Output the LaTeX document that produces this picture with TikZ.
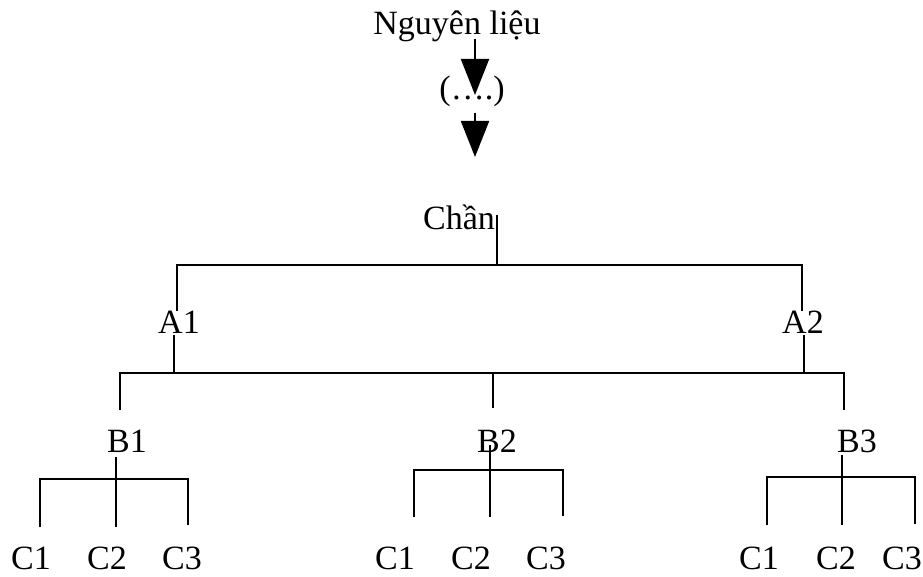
\documentclass[tikz,border=0pt]{standalone}
\usepackage{fontspec}
\setmainfont{Liberation Serif}
\usetikzlibrary{arrows.meta}
\tikzset{
  lbl/.style={inner sep=0pt, anchor=base, font=\fontsize{34}{39}\selectfont},
  ln/.style={line width=1.8pt, line cap=butt},
  arr/.style={line width=2pt, -{Triangle[width=28pt,length=36pt]}}
}
\begin{document}
\begin{tikzpicture}[x=1pt,y=-1pt]
\useasboundingbox (0,0) rectangle (923,577);
% text nodes
\node[lbl] (ngl) at (457,35) {Nguyên liệu};
\node[lbl] (dots) at (472,100) {(….)};
\node[lbl] (chan) at (459,230) {Chần};
\node[lbl] (A1) at (179,333) {A1};
\node[lbl] (A2) at (803,333) {A2};
\node[lbl] (B1) at (127,452) {B1};
\node[lbl] (B2) at (497,452) {B2};
\node[lbl] (B3) at (857,452) {B3};
\node[lbl] (b1c1) at (31,569) {C1};
\node[lbl] (b1c2) at (107,569) {C2};
\node[lbl] (b1c3) at (182,569) {C3};
\node[lbl] (b2c1) at (395,569) {C1};
\node[lbl] (b2c2) at (471,569) {C2};
\node[lbl] (b2c3) at (546,569) {C3};
\node[lbl] (b3c1) at (759,569) {C1};
\node[lbl] (b3c2) at (836,569) {C2};
\node[lbl] (b3c3) at (902,569) {C3};
% arrows
\coordinate (ar1s) at (475,39);
\coordinate (ar1e) at (475,95);
\coordinate (ar2s) at (475,113);
\coordinate (ar2e) at (475,157);
\draw[arr] (ar1s) -- (ar1e);
\draw[arr] (ar2s) -- (ar2e);
% level 1
\coordinate (c0) at (497,215);
\coordinate (c0b) at (497,265);
\coordinate (h1l) at (177,265);
\coordinate (h1r) at (802,265);
\coordinate (a1t) at (177,311);
\coordinate (a2t) at (802,311);
\draw[ln] (c0) -- (c0b);
\draw[ln] (a1t) -- (h1l) -- (h1r) -- (a2t);
% level 2
\coordinate (a1b) at (174,335);
\coordinate (a1j) at (174,373);
\coordinate (a2b) at (804,335);
\coordinate (a2j) at (804,373);
\coordinate (h2l) at (120,373);
\coordinate (h2r) at (844,373);
\coordinate (h2m) at (493,373);
\coordinate (b1t) at (120,410);
\coordinate (b2t) at (493,408);
\coordinate (b3t) at (844,410);
\draw[ln] (a1b) -- (a1j);
\draw[ln] (a2b) -- (a2j);
\draw[ln] (b1t) -- (h2l) -- (h2r) -- (b3t);
\draw[ln] (h2m) -- (b2t);
% B1 children
\coordinate (b1b) at (116,457);
\coordinate (b1j) at (116,479);
\coordinate (b1m) at (116,527);
\draw[ln] (b1b) -- (b1j) -- (b1m);
\draw[ln] (40,527) -- (40,479) -- (188,479) -- (188,525);
% B2 children
\coordinate (b2b) at (490,445);
\coordinate (b2j) at (490,470);
\coordinate (b2m) at (490,517);
\draw[ln] (b2b) -- (b2j) -- (b2m);
\draw[ln] (414,517) -- (414,470) -- (563,470) -- (563,516);
% B3 children
\coordinate (b3b) at (842,455);
\coordinate (b3j) at (842,477);
\coordinate (b3m) at (842,525);
\draw[ln] (b3b) -- (b3j) -- (b3m);
\draw[ln] (767,525) -- (767,477) -- (915,477) -- (915,524);
\end{tikzpicture}
\end{document}
